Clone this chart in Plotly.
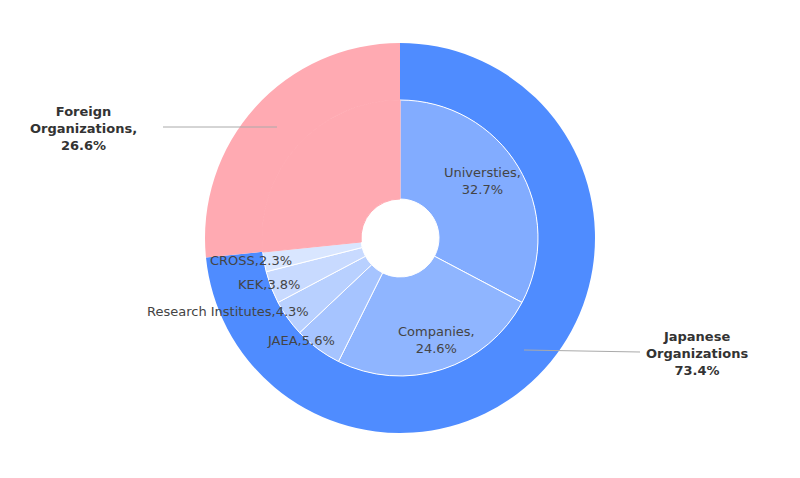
import plotly.graph_objects as go

outer_labels = ["Japanese Organizations", "Foreign Organizations"]
outer_values = [73.4, 26.6]
outer_colors = ["#4f8cff", "#ffaab2"]

inner_labels = ["Universties", "Companies", "JAEA", "Research Institutes", "KEK", "CROSS", "Foreign Organizations"]
inner_values = [32.7, 24.6, 5.6, 4.3, 3.8, 2.3, 26.6]
inner_colors = ["#82acff", "#8fb5ff", "#a6c4ff", "#b8d0ff", "#c8daff", "#d9e6ff", "#ffaab2"]
inner_line_colors = ["#ffffff"] * 6 + ["#ffaab2"]

W, H = 800, 478
OFF = 8  # default page body margin
T, B = 43 - OFF, 45 + OFF
L, R = 0, 2 * OFF
PW = W - L - R
PH = H - T - B
R_OUT, R_IN, R_HOLE = 195, 138, 39

def px(x): return (x - OFF - L) / PW
def py(y): return 1 - (y - OFF - T) / PH

fig = go.Figure()
fig.add_trace(go.Pie(labels=outer_labels, values=outer_values, sort=False, direction="clockwise",
                     rotation=0, hole=R_IN / R_OUT, marker=dict(colors=outer_colors, line=dict(width=0)),
                     textinfo="none", hoverinfo="label+percent", showlegend=False,
                     domain=dict(x=[0, 1], y=[0, 1])))
fy = R_IN / R_OUT / 2
fx = R_IN / PW
fig.add_trace(go.Pie(labels=inner_labels, values=inner_values, sort=False, direction="clockwise",
                     rotation=0, hole=R_HOLE / R_IN,
                     marker=dict(colors=inner_colors, line=dict(width=1, color=inner_line_colors)),
                     textinfo="none", hoverinfo="label+percent", showlegend=False,
                     domain=dict(x=[0.5 - fx, 0.5 + fx], y=[0.5 - fy, 0.5 + fy])))

F = "DejaVu Sans"
anns = []
def txt(x, y, s, anchor="center", size=13, color="#444"):
    anns.append(dict(x=px(x), y=py(y), xref="paper", yref="paper", text=s, showarrow=False,
                     xanchor=anchor, yanchor="middle", align="center",
                     font=dict(family=F, size=size, color=color)))

txt(83, 128, "<b>Foreign<br>Organizations,<br>26.6%</b>", color="#333")
txt(697, 353, "<b>Japanese<br>Organizations<br>73.4%</b>", color="#333")
txt(482, 181, "Universties,<br>32.7%")
txt(436, 340, "Companies,<br>24.6%")
txt(294, 260, "CROSS,2.3%", anchor="right")
txt(302, 284, "KEK,3.8%", anchor="right")
txt(311, 311, "Research Institutes,4.3%", anchor="right")
txt(337, 340, "JAEA,5.6%", anchor="right")

shapes = [
    dict(type="line", xref="paper", yref="paper", x0=px(163), y0=py(127), x1=px(277), y1=py(127),
         line=dict(color="#aaaaaa", width=1)),
    dict(type="line", xref="paper", yref="paper", x0=px(524), y0=py(350), x1=px(640), y1=py(352),
         line=dict(color="#aaaaaa", width=1)),
]

fig.update_layout(width=W, height=H, margin=dict(l=L, r=R, t=T, b=B),
                  paper_bgcolor="white", plot_bgcolor="white",
                  annotations=anns, shapes=shapes, font=dict(family=F))
fig.write_html("out.html")
